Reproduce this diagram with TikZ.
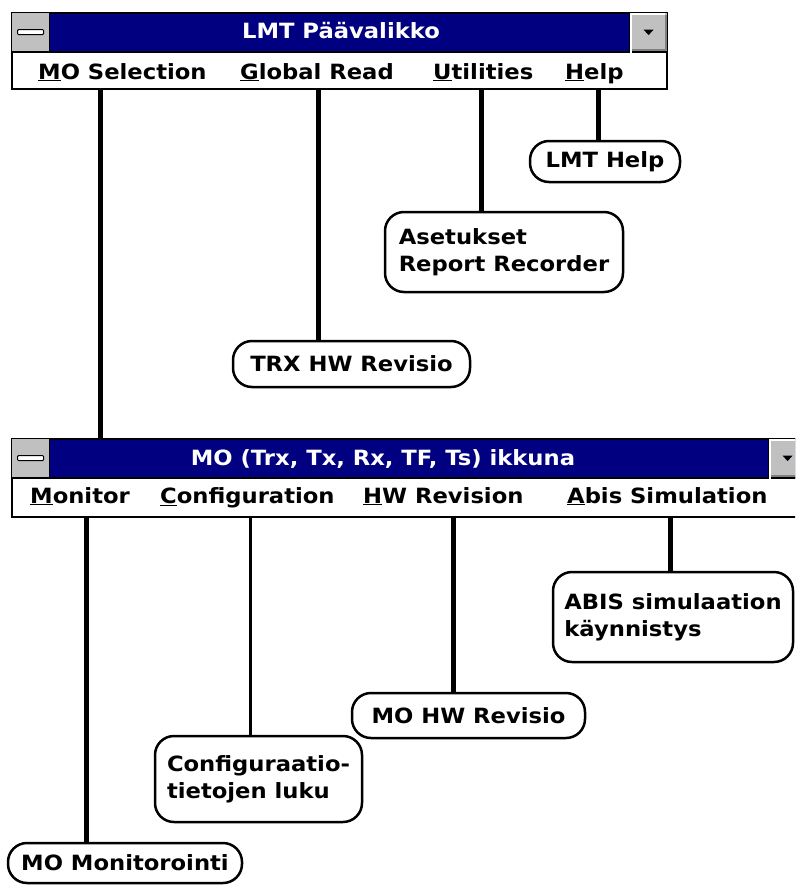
\documentclass[tikz,border=0pt]{standalone}
\usepackage{fontspec}
\setmainfont{DejaVu Sans}[FakeStretch=1.08]
\definecolor{navy}{HTML}{000080}
\definecolor{btngrey}{HTML}{C0C0C0}
\definecolor{btndark}{HTML}{808080}
\newcommand{\ul}[1]{\underline{#1}}
\begin{document}
\begin{tikzpicture}[x=1pt,y=-1pt,
  txt/.style={font=\fontsize{21}{27}\selectfont\bfseries, inner sep=0pt},
  ttl/.style={txt, text=white, anchor=base},
  menu/.style={txt, anchor=base west},
  titlebar/.style={fill=navy, draw=black, line width=1.5pt, anchor=north west, inner sep=0pt},
  menubar/.style={fill=white, draw=black, line width=1.5pt, anchor=north west, inner sep=0pt},
  btn/.style={fill=btngrey, draw=black, line width=1.2pt, anchor=north west, inner sep=0pt, minimum width=38, minimum height=39},
  bubble/.style={txt, draw=black, line width=2.5pt, rounded corners=19pt, align=left, fill=white},
  conn/.style={line width=5pt},
  thinconn/.style={line width=3pt}
]
\useasboundingbox (0,0) rectangle (795,886);
\clip (0,0) rectangle (795,886);

% ---------- window 1 ----------
\node[titlebar, minimum width=655, minimum height=39] (w1t) at (11,12) {};
\node[menubar, minimum width=655, minimum height=37] (w1m) at (11,51) {};
\node[btn] (w1min) at (11,12) {};
\node[fill=white, draw=black, line width=1pt, minimum width=26, minimum height=5, inner sep=0pt, rounded corners=1pt] (w1bar) at (w1min.center) {};
\node[btn] (w1dd) at (629,12) {};
\draw[white, line width=1.5pt] ([xshift=2,yshift=-2]w1dd.south west) -- ([xshift=2,yshift=-2]w1dd.north west) -- ([xshift=-3,yshift=-2]w1dd.north east);
\draw[btndark, line width=1.5pt] ([xshift=3,yshift=2]w1dd.south west) -- ([xshift=-2,yshift=2]w1dd.south east) -- ([xshift=-2,yshift=-3]w1dd.north east);
\fill[black] ([xshift=-5,yshift=2.5]w1dd.center) -- ([xshift=5,yshift=2.5]w1dd.center) -- ([yshift=-3]w1dd.center) -- cycle;
\node[ttl] (w1title) at (341,38) {LMT Päävalikko};

\node[menu] (mosel) at (38,79) {\ul{M}O Selection};
\node[menu] (glob) at (240,79) {\ul{G}lobal Read};
\node[menu] (util) at (433,79) {\ul{U}tilities};
\node[menu] (help) at (565,79) {\ul{H}elp};

% ---------- window 2 ----------
\node[titlebar, minimum width=820, minimum height=39] (w2t) at (11,438) {};
\node[menubar, minimum width=820, minimum height=39] (w2m) at (11,477) {};
\node[btn] (w2min) at (11,438) {};
\node[fill=white, draw=black, line width=1pt, minimum width=26, minimum height=5, inner sep=0pt, rounded corners=1pt] (w2bar) at (w2min.center) {};
\node[btn] (w2dd) at (768,438) {};
\draw[white, line width=1.5pt] ([xshift=2,yshift=-2]w2dd.south west) -- ([xshift=2,yshift=-2]w2dd.north west) -- ([xshift=-3,yshift=-2]w2dd.north east);
\draw[btndark, line width=1.5pt] ([xshift=3,yshift=2]w2dd.south west) -- ([xshift=-2,yshift=2]w2dd.south east) -- ([xshift=-2,yshift=-3]w2dd.north east);
\fill[black] ([xshift=-5,yshift=2.5]w2dd.center) -- ([xshift=5,yshift=2.5]w2dd.center) -- ([yshift=-3]w2dd.center) -- cycle;
\node[ttl] (w2title) at (383,465) {MO (Trx, Tx, Rx, TF, Ts) ikkuna};

\node[menu] (mon) at (30,503) {\ul{M}onitor};
\node[menu] (conf) at (160,503) {\ul{C}onfiguration};
\node[menu] (hwr) at (363,503) {\ul{H}W Revision};
\node[menu] (abis) at (567,503) {\ul{A}bis Simulation};

% ---------- bubbles ----------
\node[bubble, minimum width=150, minimum height=41] (bhelp) at (605,161.5) {LMT Help};
\node[bubble, minimum width=238, minimum height=80] (baset) at (504,252) {Asetukset\\Report Recorder};
\node[bubble, minimum width=237, minimum height=46] (btrx) at (351.5,364) {TRX HW Revisio};
\node[bubble, minimum width=240, minimum height=90] (babis) at (673,617) {ABIS simulaation\\käynnistys};
\node[bubble, minimum width=233, minimum height=45] (bmohw) at (468.5,715.5) {MO HW Revisio};
\node[bubble, minimum width=207, minimum height=86] (bconf) at (258.5,779) {Configuraatio-\\tietojen luku};
\node[bubble, minimum width=234, minimum height=40] (bmon) at (125,863) {MO Monitorointi};

% ---------- connectors ----------
\coordinate (c1) at (100,88);
\coordinate (c2) at (318,88);
\coordinate (c3) at (481,88);
\coordinate (c4) at (598,88);
\coordinate (d1) at (86,516);
\coordinate (d2) at (250,516);
\coordinate (d3) at (453,516);
\coordinate (d4) at (670,516);
\draw[conn] (c1) -- (c1 |- w2t.north);
\draw[conn] (c2) -- (c2 |- btrx.north);
\draw[conn] (c3) -- (c3 |- baset.north);
\draw[conn] (c4) -- (c4 |- bhelp.north);
\draw[conn] (d1) -- (d1 |- bmon.north);
\draw[thinconn] (d2) -- (d2 |- bconf.north);
\draw[conn] (d3) -- (d3 |- bmohw.north);
\draw[conn] (d4) -- (d4 |- babis.north);
\end{tikzpicture}
\end{document}
